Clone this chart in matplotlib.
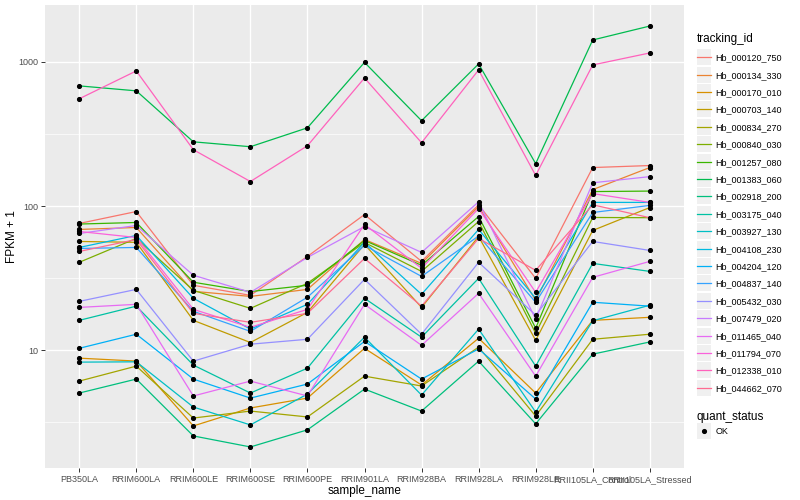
import numpy as np
import matplotlib
matplotlib.use("Agg")
import matplotlib.pyplot as plt
from matplotlib.lines import Line2D
from matplotlib.patches import Rectangle
from matplotlib.legend_handler import HandlerLine2D

plt.rcParams['font.family'] = ['Liberation Sans', 'DejaVu Sans']

samples = ['PB350LA', 'RRIM600LA', 'RRIM600LE', 'RRIM600SE', 'RRIM600PE',
           'RRIM901LA', 'RRIM928BA', 'RRIM928LA', 'RRIM928LE',
           'RRII105LA_Control', 'RRII105LA_Stressed']

tracking_ids = ['Hb_000120_750', 'Hb_000134_330', 'Hb_000170_010', 'Hb_000703_140',
                'Hb_000834_270', 'Hb_000840_030', 'Hb_001257_080', 'Hb_001383_060',
                'Hb_002918_200', 'Hb_003175_040', 'Hb_003927_130', 'Hb_004108_230',
                'Hb_004204_120', 'Hb_004837_140', 'Hb_005432_030', 'Hb_007479_020',
                'Hb_011465_040', 'Hb_011794_070', 'Hb_012338_010', 'Hb_044662_070']

# ggplot hue palette, 20 levels
colors = ['#F8766D', '#EA8331', '#D89000', '#C09B00', '#A3A500', '#7CAE00', '#39B600',
          '#00BB4E', '#00BF7D', '#00C1A3', '#00BFC4', '#00BAE0', '#00B0F6', '#35A2FF',
          '#9590FF', '#C77CFF', '#E76BF3', '#FA62DB', '#FF62BC', '#FF6C91']

# FPKM + 1, one row per tracking_id, one column per sample
fpkm1 = [
    [75.7, 91.6, 28.2, 24.0, 44.7, 87.3, 41.3, 102, 31.5, 185, 191],
    [68.8, 71.0, 25.6, 23.6, 26.4, 58.6, 40.0, 99.2, 22.2, 130, 185],
    [8.8, 8.4, 2.98, 3.97, 4.65, 10.3, 5.73, 12.1, 5.04, 16.1, 16.9],
    [56.8, 56.0, 16.1, 11.3, 18.3, 54.2, 19.8, 61.5, 11.7, 67.7, 97.6],
    [6.1, 7.75, 3.38, 3.78, 3.44, 6.6, 5.64, 10.5, 3.49, 11.9, 12.9],
    [40.7, 59.6, 26.0, 19.5, 29.1, 55.9, 35.2, 78.1, 13.1, 83.3, 83.0],
    [75.0, 76.9, 29.6, 25.5, 28.2, 57.7, 38.8, 84.6, 14.2, 126, 127],
    [682, 630, 279, 258, 349, 993, 391, 969, 197, 1420, 1774],
    [5.04, 6.3, 2.54, 2.13, 2.8, 5.37, 3.78, 8.39, 3.08, 9.38, 11.4],
    [16.1, 20.2, 7.88, 5.04, 7.5, 22.9, 12.3, 31.5, 7.75, 40.0, 35.2],
    [8.26, 8.3, 4.03, 3.03, 4.96, 12.3, 4.88, 14.0, 3.72, 16.0, 20.5],
    [51.6, 62.5, 22.9, 14.0, 20.8, 56.0, 24.4, 68.8, 22.9, 106, 106],
    [10.3, 12.9, 6.3, 4.65, 5.82, 11.5, 6.3, 10.2, 4.58, 21.5, 20.2],
    [50.8, 51.6, 18.6, 13.5, 23.3, 53.3, 32.5, 62.0, 21.5, 90.2, 101],
    [21.8, 26.4, 8.39, 11.0, 11.9, 31.0, 12.9, 40.7, 17.5, 56.8, 49.2],
    [64.5, 73.3, 33.1, 25.2, 44.0, 72.1, 47.7, 107, 16.4, 145, 160],
    [19.8, 20.8, 4.81, 6.1, 4.81, 20.8, 10.8, 24.8, 6.6, 32.0, 41.3],
    [66.6, 60.5, 19.2, 14.4, 19.2, 74.5, 37.0, 96.1, 25.2, 122, 106],
    [555, 866, 246, 148, 262, 774, 275, 880, 163, 953, 1154],
    [48.4, 58.6, 18.0, 15.6, 18.0, 43.3, 20.2, 59.6, 35.8, 102, 83.0],
]

fig = plt.figure(figsize=(8, 5), dpi=100)
ax = fig.add_axes([0.05625, 0.064, 0.79875, 0.926])
ax.set_facecolor('#EBEBEB')

x = np.arange(len(samples))
for vals, c in zip(fpkm1, colors):
    ax.plot(x, vals, color=c, lw=0.9, zorder=3)
for vals in fpkm1:
    ax.plot(x, vals, 'o', color='black', ms=2.7, zorder=4)

ax.set_yscale('log')
lo = np.log10(np.min(fpkm1))
hi = np.log10(np.max(fpkm1))
pad = (hi - lo) * 0.05
ax.set_ylim(10 ** (lo - pad), 10 ** (hi + pad))
ax.set_xlim(-0.6, len(samples) - 0.4)

ax.set_yticks([10, 100, 1000])
ax.set_yticklabels(['10', '100', '1000'])
ax.set_yticks([10 ** 0.5, 10 ** 1.5, 10 ** 2.5], minor=True)
ax.yaxis.set_minor_formatter(plt.NullFormatter())
ax.set_xticks(x)
ax.set_xticklabels(samples)

ax.grid(True, which='major', color='white', lw=1.0, zorder=1)
ax.grid(True, which='minor', axis='y', color='white', lw=0.5, zorder=1)
ax.tick_params(which='minor', length=0)
ax.tick_params(which='major', length=3, width=0.7, color='#333333',
               labelsize=6.5, labelcolor='#4D4D4D', pad=2)
for s in ax.spines.values():
    s.set_visible(False)
ax.set_axisbelow(True)

ax.set_xlabel('sample_name', fontsize=8.5, labelpad=1)
ax.set_ylabel('FPKM + 1', fontsize=8.5, labelpad=0)


class KeyHandler(HandlerLine2D):
    def create_artists(self, legend, orig, xd, yd, w, h, fontsize, trans):
        arts = super().create_artists(legend, orig, xd, yd, w, h, fontsize, trans)
        bg = Rectangle((-xd, -yd - 3.5), w, h + 7, facecolor='#F0F0F0',
                       edgecolor='none', transform=trans)
        return [bg] + list(arts)


line_handles = [Line2D([], [], color=c, lw=0.9) for c in colors]
leg1 = ax.legend(line_handles, tracking_ids, title='tracking_id',
                 loc='upper left', bbox_to_anchor=(0.865, 0.943),
                 bbox_transform=fig.transFigure, frameon=False,
                 fontsize=6.5, title_fontsize=8.5, alignment='left',
                 handlelength=1.6, handletextpad=0.5, labelspacing=0.93,
                 borderpad=0, handler_map={Line2D: KeyHandler()})
ax.add_artist(leg1)

pt_handle = Line2D([], [], ls='none', marker='o', color='black', ms=2.7)
leg2 = ax.legend([pt_handle], ['OK'], title='quant_status',
                 loc='upper left', bbox_to_anchor=(0.865, 0.188),
                 bbox_transform=fig.transFigure, frameon=False,
                 fontsize=6.5, title_fontsize=8.5, alignment='left',
                 handlelength=1.6, handletextpad=0.5, borderpad=0,
                 handler_map={Line2D: KeyHandler()})

fig.savefig('out.png', dpi=100)
